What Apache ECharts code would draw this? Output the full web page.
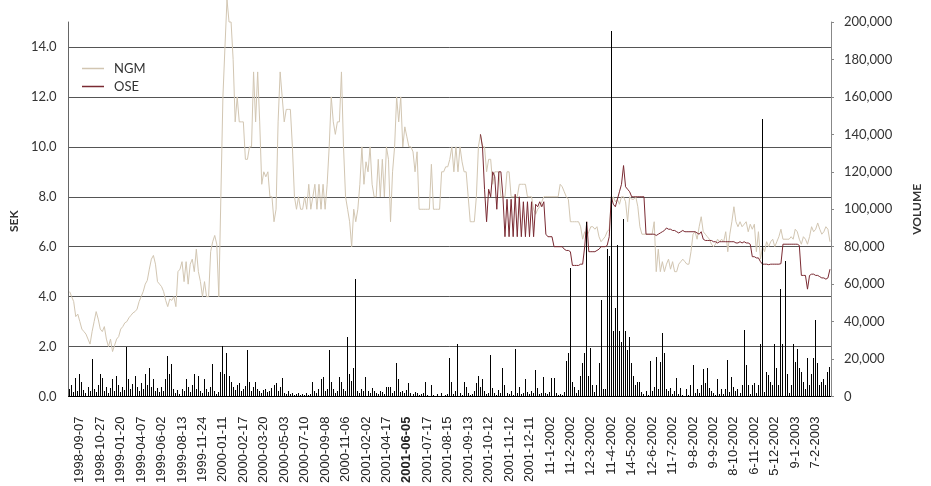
<!DOCTYPE html>
<html>
<head>
<meta charset="utf-8">
<script src="https://cdn.jsdelivr.net/npm/echarts@6/dist/echarts.min.js"></script>
<style>
html,body{margin:0;padding:0;background:#fff;}
#c{width:931px;height:486px;}
</style>
</head>
<body>
<div id="c"></div>
<script>
// Tick labels shown on the x axis (one every 10 categories)
const tickLabels = ['1998-09-07','1998-10-27','1999-01-20','1999-04-07','1999-06-02','1999-08-13','1999-11-24',
  '2000-01-11','2000-02-17','2000-03-20','2000-05-03','2000-07-10','2000-09-08','2000-11-06','2001-02-02',
  '2001-04-17','2001-06-05','2001-07-17','2001-08-15','2001-09-13','2001-10-12','2001-11-12','2001-12-11',
  '11-1-2002','11-2-2002','12-3-2002','11-4-2002','14-5-2002','12-6-2002','11-7-2002','9-8-2002','9-9-2002',
  '8-10-2002','6-11-2002','5-12-2002','9-1-2003','7-2-2003'];
const boldLabel = '2001-06-05';

// NGM price (SEK)
const ngm = [
4.2,4.0,3.8,3.2,3.3,3.0,2.7,2.6,2.5,2.3,
2.1,2.6,3.0,3.4,3.1,2.7,2.6,2.8,2.3,2.0,
2.3,1.8,2.05,2.3,2.4,2.7,2.8,2.95,3.0,3.15,
3.25,3.35,3.4,3.5,3.8,4.0,4.2,4.5,4.65,5.1,
5.5,5.65,5.3,4.6,4.5,4.4,4.2,3.85,3.6,3.9,
3.85,4.0,3.6,5.0,5.1,5.4,4.6,5.4,4.5,5.3,
5.5,5.0,5.9,5.0,4.6,4.0,4.6,4.0,4.0,5.8,
6.2,6.45,6.1,4.0,8.0,12.0,14.0,15.9,15.0,15.0,
13.5,11.0,12.0,11.0,11.0,11.0,9.5,9.5,10.0,10.0,
13.0,11.0,13.0,11.0,8.5,9.0,8.8,9.0,8.0,8.0,
7.0,7.5,11.0,13.0,12.0,11.0,11.5,11.5,11.5,10.0,
8.0,7.5,8.0,7.5,7.5,8.0,7.5,8.5,7.5,8.0,
8.5,7.5,8.5,7.5,8.5,7.5,8.5,10.0,12.0,11.0,
10.5,11.0,11.0,13.0,10.0,8.0,7.5,7.0,6.0,7.5,
7.0,7.5,8.5,10.0,8.5,9.4,9.0,10.0,8.5,8.0,
8.0,9.5,8.0,9.5,8.0,10.0,9.5,7.0,9.0,10.0,
12.0,11.0,12.0,10.0,10.8,10.4,10.0,10.0,9.8,9.0,
9.8,7.5,7.5,7.5,7.5,7.5,7.5,9.3,7.5,7.5,
7.5,7.5,9.0,9.0,9.2,9.2,9.5,10.0,9.0,10.0,
9.0,10.0,9.4,9.0,9.0,8.0,7.0,7.0,7.0,8.0,
10.0,10.5,10.0,10.0,9.0,9.5,9.5,8.5,9.0,9.0,
9.0,8.0,8.0,8.0,9.0,9.0,8.0,8.0,8.0,8.0,
8.5,8.5,8.5,8.5,8.0,8.0,8.0,7.5,7.3,7.5,
7.6,7.8,8.0,8.0,8.0,8.0,8.0,8.0,8.0,8.0,
8.5,8.4,8.2,8.0,7.9,7.0,7.0,7.0,7.0,7.0,
6.8,6.3,6.6,6.4,6.6,6.8,6.8,6.7,6.8,6.4,
6.2,6.3,6.4,6.6,6.7,7.8,8.0,7.8,7.9,7.7,
8.0,8.0,7.8,7.0,8.0,7.9,7.9,8.0,7.6,6.8,
6.5,6.5,6.5,6.5,6.5,6.5,7.0,5.0,5.9,5.0,
5.4,5.0,5.3,5.5,5.1,5.4,5.0,5.0,5.3,5.4,
5.5,5.4,5.3,5.3,5.8,6.5,6.6,6.3,6.8,7.2,
6.6,6.5,6.4,6.3,6.1,6.0,6.1,6.3,6.2,6.3,
6.2,6.6,5.8,6.5,7.0,7.6,7.0,6.8,7.0,6.8,
6.9,7.0,6.6,6.9,6.7,6.9,5.8,6.6,5.5,6.0,
5.8,6.2,6.0,6.2,6.3,6.0,6.2,6.4,6.7,6.3,
6.3,6.3,6.3,6.4,6.3,6.7,6.6,6.3,6.1,6.4,
6.3,6.1,6.4,6.8,6.6,6.7,6.95,6.7,6.5,6.6,
6.8,6.7,6.2];

// OSE price (SEK), listed from category 201 onwards
const oseStart = 201;
const ose = [
10.5,10.0,8.3,7.0,8.3,8.0,9.0,8.8,7.5,
9.0,9.0,8.0,6.4,7.9,6.4,7.9,6.4,8.1,6.4,
8.0,6.4,7.8,6.4,7.8,6.4,7.8,6.4,7.7,7.6,
7.8,7.6,7.8,6.5,6.4,6.4,6.4,6.0,6.0,6.0,
6.0,6.0,5.9,5.85,5.85,5.8,5.25,5.25,5.25,5.25,
5.3,5.3,6.0,7.0,5.8,5.8,5.8,5.8,5.85,5.9,
6.0,6.0,6.0,6.05,6.4,8.0,7.7,7.6,7.9,8.2,
8.5,9.25,8.4,8.3,8.2,8.0,8.0,8.0,8.0,8.0,
8.0,8.0,6.5,6.5,6.5,6.5,6.5,6.45,6.5,6.55,
6.6,6.65,6.75,6.7,6.7,6.65,6.65,6.6,6.55,6.6,
6.65,6.6,6.6,6.6,6.6,6.6,6.6,6.55,6.5,6.6,
6.3,6.25,6.25,6.25,6.25,6.2,6.2,6.15,6.2,6.2,
6.2,6.2,6.2,6.2,6.2,6.2,6.15,6.15,6.2,6.15,
6.2,6.15,6.15,6.1,5.6,5.6,5.55,5.55,5.4,5.3,
5.3,5.3,5.28,5.3,5.3,5.3,5.3,5.3,5.32,6.1,
6.1,6.1,6.1,6.1,6.1,6.1,6.1,6.05,4.85,4.85,
4.85,4.3,4.85,4.9,4.9,4.85,4.85,4.8,4.75,4.75,
4.7,4.75,5.1];

// Volume
const volume = [
4000,6000,2500,10000,3000,12000,8000,3500,2000,5000,
3000,20000,4000,2500,6000,12000,10000,3000,5000,2000,
4500,9500,3000,11000,6000,2500,5000,3500,26600,9500,
4000,6500,11000,5000,3000,7000,4000,12000,6000,15000,
5000,9500,3000,4500,2500,5000,3000,9500,21600,12000,
17500,4000,2000,3500,1500,4000,3000,9500,5000,2500,
6000,12000,4000,11000,3000,2000,9500,4000,2500,5000,
17500,3000,1500,2500,13000,27000,12000,23000,11000,8000,
5000,3500,6000,7000,3000,4000,5500,24600,8000,3000,
5000,8000,4000,3000,2000,3500,4000,2500,3000,4500,
6000,7000,3000,5000,10000,2000,1500,3000,1500,2000,
1000,1500,2000,1000,1500,1000,2000,1000,1500,8000,
3000,2000,4000,9500,10500,3000,4000,25000,8000,4000,
2000,3000,10500,8000,4000,3000,31700,12000,8500,15000,
63000,3000,2000,4000,3000,10500,3000,2000,4500,3000,
2000,1500,3000,2500,1500,5000,5000,5000,2000,3000,
18000,9500,2500,3000,2000,3500,7000,2000,1500,2500,
2000,1000,1500,2000,8000,1000,0,6000,1000,0,
1500,0,2000,500,1000,1500,20600,8000,1500,3000,
28000,2000,1000,8000,5000,2000,1000,1500,3000,7000,
11000,5000,9500,3000,1500,2000,22000,4500,2000,1000,
3500,2000,15000,6000,2000,1500,3000,1000,25500,2000,
5000,1500,2000,9500,2500,1500,3000,2000,14000,4500,
1500,2000,10500,2000,1500,2500,10000,10000,2000,1000,
1500,1000,2500,19000,23000,68600,8000,5000,2000,3500,
11000,18000,23000,93000,11000,26000,6000,2500,6000,18000,
51600,4000,4000,78700,75000,195000,35000,47000,80800,35000,
29000,95000,35000,25000,31700,18000,11000,6000,8000,8000,
2500,1500,3000,1000,19000,3000,5000,21000,4000,18400,
34000,23000,4000,3000,4500,1500,3000,10000,1500,4500,
1000,500,4000,1000,6000,17000,2000,4000,2000,6000,
14500,7000,15000,4500,3000,2000,1000,9500,1500,4000,
1500,4000,19700,2500,10500,5000,3000,4000,2000,6000,
35600,17000,6000,1500,6000,7000,2000,6000,28000,148000,
2500,13000,11500,8000,6000,28000,15000,6000,57400,28000,
72500,12000,2000,6000,28000,18400,25500,15000,13000,8000,
4000,20700,6000,12000,20700,41000,18000,6000,8000,9500,
6000,13000,15800];

const labelStep = 10, labelOffset = 5;
const categories = ngm.map((_, i) => String(i));
const oseData = new Array(oseStart).fill(null).concat(ose);
const volumeData = volume.map((v, i) => [i, v]);

const chart = echarts.init(document.getElementById('c'), null, {renderer: 'canvas'});
const axisFont = 'Lato, "Open Sans", sans-serif';

function renderVolume(params, api) {
  const top = api.coord([api.value(0), api.value(1)]);
  const base = api.coord([api.value(0), 0]);
  const x = Math.floor(top[0]);
  const y0 = Math.round(base[1]);
  const y1 = Math.round(top[1]);
  return {
    type: 'rect',
    shape: {x: x, y: y1, width: 1, height: y0 - y1},
    style: {fill: '#000'}
  };
}

const option = {
  animation: false,
  backgroundColor: '#fff',
  grid: {left: 62, right: 93, top: 22, bottom: 88, containLabel: false},
  legend: {
    orient: 'vertical', left: 77, top: 57, itemWidth: 22, itemHeight: 1.5, itemGap: 5,
    icon: 'rect', data: ['NGM', 'OSE'],
    textStyle: {fontFamily: axisFont, fontSize: 13, color: '#333', padding: [0, 0, 0, 5]}
  },
  xAxis: {
    type: 'category', data: categories, boundaryGap: true,
    axisLine: {show: true, lineStyle: {color: '#000', width: 1}},
    axisTick: {show: false},
    splitLine: {show: false},
    axisLabel: {
      rotate: 90, margin: 20,
      interval: (idx) => idx >= labelOffset && (idx - labelOffset) % labelStep === 0,
      formatter: (val, idx) => {
        const i = Number(val);
        const t = tickLabels[(i - labelOffset) / labelStep];
        if (t === undefined) return '';
        return t === boldLabel ? '{b|' + t + '}' : t;
      },
      fontFamily: '"Liberation Sans", Arial, sans-serif', fontSize: 13, color: '#222',
      rich: {b: {fontFamily: '"Liberation Sans", Arial, sans-serif', fontSize: 13, fontWeight: 'bold', color: '#222'}}
    }
  },
  yAxis: [
    {
      type: 'value', min: 0, max: 15, interval: 2, position: 'left',
      name: 'SEK', nameLocation: 'middle', nameGap: 42, nameRotate: 90,
      nameTextStyle: {fontFamily: axisFont, fontSize: 12, fontWeight: 'bold', color: '#333', padding: [0, 24, 0, 0]},
      axisLine: {show: true, lineStyle: {color: '#666', width: 1}},
      axisTick: {show: false},
      axisLabel: {formatter: v => v.toFixed(1), showMaxLabel: false, margin: 12,
        fontFamily: axisFont, fontSize: 13, color: '#333'},
      splitLine: {show: true, showMaxLine: false, lineStyle: {color: '#555', width: 1}}
    },
    {
      type: 'value', min: 0, max: 200000, interval: 20000, position: 'right',
      name: 'VOLUME', nameLocation: 'middle', nameGap: 80, nameRotate: 90,
      nameTextStyle: {fontFamily: axisFont, fontSize: 12, fontWeight: 'bold', color: '#333'},
      axisLine: {show: true, lineStyle: {color: '#888', width: 1}},
      axisTick: {show: true, length: 3, lineStyle: {color: '#888'}},
      axisLabel: {formatter: v => v.toLocaleString('en-US'), margin: 13,
        fontFamily: axisFont, fontSize: 13, color: '#333'},
      splitLine: {show: false}
    }
  ],
  series: [
    {
      name: 'NGM', type: 'line', data: ngm, yAxisIndex: 0, symbol: 'none', clip: false,
      lineStyle: {color: '#d2c6b2', width: 1}, itemStyle: {color: '#d2c6b2'}, z: 2
    },
    {
      name: 'OSE', type: 'line', data: oseData, yAxisIndex: 0, symbol: 'none', connectNulls: false,
      lineStyle: {color: '#7a2a32', width: 1}, itemStyle: {color: '#7a2a32'}, z: 3
    },
    {
      name: 'Volume', type: 'custom', data: volumeData, yAxisIndex: 1, xAxisIndex: 0,
      encode: {x: 0, y: 1}, renderItem: renderVolume, z: 4
    }
  ]
};
chart.setOption(option);
</script>
</body>
</html>
